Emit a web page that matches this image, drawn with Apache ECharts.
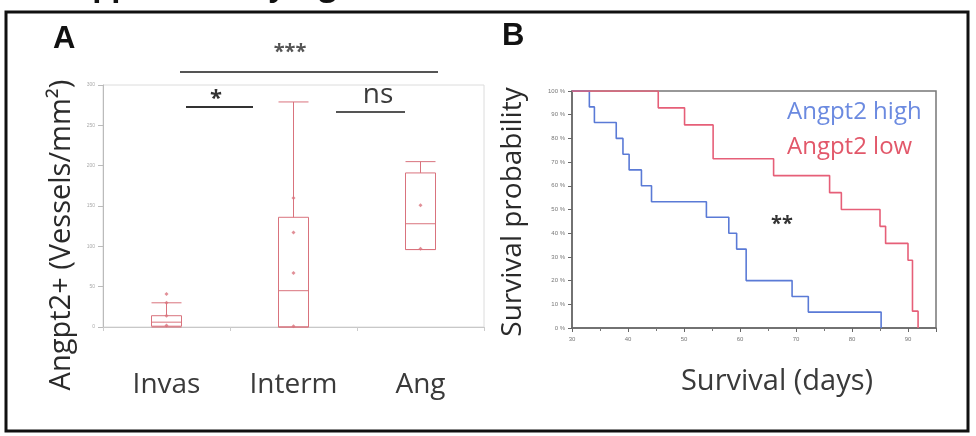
<!DOCTYPE html>
<html>
<head>
<meta charset="utf-8">
<script src="https://cdn.jsdelivr.net/npm/echarts@6/dist/echarts.min.js"></script>
<style>
  html, body { margin: 0; padding: 0; background: #fff; }
  #main { width: 976px; height: 436px; }
</style>
</head>
<body>
<div id="main"></div>
<script>
// 面板A：箱线图数据 [min, Q1, median, Q3, max]
var cats = ['Invas', 'Interm', 'Ang'];
var boxData = [
    [0, 1, 6, 14, 30],
    [0, 0, 45, 136, 279],
    [96, 96, 128, 191, 205]
];
// 单个数据点
var ptCat = ['Invas', 'Invas', 'Invas', 'Invas', 'Interm', 'Interm', 'Interm', 'Interm', 'Ang', 'Ang'];
var ptVal = [41, 30, 14, 2, 160, 117, 67, 1, 151, 97];

// 面板B：生存曲线 (天数, 生存率%)
var highDays = [30, 33.1, 34.0, 37.9, 39.1, 40.2, 42.4, 44.2, 54, 58, 59.4, 61.1, 69.3, 72.2, 85.2];
var highSurv = [100, 93.3, 86.7, 80, 73.3, 66.7, 60, 53.3, 46.7, 40, 33.3, 20, 13.3, 6.7, 0];
var lowDays = [30, 45.4, 50.1, 55.2, 66, 76, 78.1, 85, 86, 90, 90.8, 91.8];
var lowSurv = [100, 92.9, 85.7, 71.4, 64.3, 57.1, 50, 42.9, 35.7, 28.6, 7.1, 0];

var boxRed = '#d9737d';
var kmBlue = '#5a7ad6';
var kmRed = '#e65f78';
var txtFont = '"Open Sans", "Lato", sans-serif';
var txtColor = '#2a2a2a';

function pairs(xs, ys) {
    var out = [];
    for (var i = 0; i < xs.length; i++) {
        out.push([xs[i], ys[i]]);
    }
    return out;
}

var myChart = echarts.init(document.getElementById('main'), null, { renderer: 'canvas' });

myChart.setOption({
    backgroundColor: '#fff',
    animation: false,
    grid: [
        { left: 103, top: 85, width: 381, height: 242, show: true, borderColor: '#dcdcdc', borderWidth: 1 },
        { left: 572, top: 91, width: 364, height: 237, show: true, borderColor: '#777', borderWidth: 1.5 }
    ],
    xAxis: [
        {
            gridIndex: 0,
            type: 'category',
            data: cats,
            axisLine: { lineStyle: { color: '#c8c8c8' } },
            axisTick: { show: true, length: 4, lineStyle: { color: '#ccc' } },
            axisLabel: { margin: 44, fontSize: 28, color: '#3a3a3a', fontFamily: txtFont }
        },
        {
            gridIndex: 1,
            type: 'value',
            min: 30,
            max: 95,
            interval: 10,
            splitLine: { show: false },
            axisLine: { lineStyle: { color: '#666', width: 1.5 } },
            axisTick: { show: true, length: 4, lineStyle: { color: '#666' } },
            minorTick: { show: true, splitNumber: 2, length: 3, lineStyle: { color: '#777' } },
            axisLabel: {
                fontSize: 6, color: '#777', margin: 8,
                formatter: function (v) { return v <= 90 ? v : ''; }
            }
        }
    ],
    yAxis: [
        {
            gridIndex: 0,
            type: 'value',
            min: 0,
            max: 300,
            interval: 50,
            splitLine: { show: false },
            axisLine: { show: true, lineStyle: { color: '#bbb' } },
            axisTick: { show: true, length: 5, lineStyle: { color: '#bbb' } },
            axisLabel: { fontSize: 5, color: '#aaa', margin: 8 }
        },
        {
            gridIndex: 1,
            type: 'value',
            min: 0,
            max: 100,
            interval: 10,
            splitLine: { show: false },
            axisLine: { show: true, lineStyle: { color: '#666', width: 1.5 } },
            axisTick: { show: true, length: 4, lineStyle: { color: '#666' } },
            axisLabel: { fontSize: 6, color: '#777', margin: 7, formatter: '{value} %' }
        }
    ],
    series: [
        {
            name: 'box',
            type: 'boxplot',
            xAxisIndex: 0,
            yAxisIndex: 0,
            boxWidth: [30, 30],
            data: boxData,
            itemStyle: { color: 'rgba(0,0,0,0)', borderColor: boxRed, borderWidth: 1 }
        },
        {
            name: 'points',
            type: 'scatter',
            xAxisIndex: 0,
            yAxisIndex: 0,
            symbol: 'diamond',
            symbolSize: 4,
            data: pairs(ptCat, ptVal),
            itemStyle: { color: boxRed }
        },
        {
            name: 'Angpt2 high',
            type: 'line',
            xAxisIndex: 1,
            yAxisIndex: 1,
            step: 'end',
            showSymbol: false,
            data: pairs(highDays, highSurv),
            lineStyle: { color: kmBlue, width: 1.6 }
        },
        {
            name: 'Angpt2 low',
            type: 'line',
            xAxisIndex: 1,
            yAxisIndex: 1,
            step: 'end',
            showSymbol: false,
            data: pairs(lowDays, lowSurv),
            lineStyle: { color: kmRed, width: 1.6 }
        }
    ],
    graphic: [
        // 外框
        { type: 'rect', shape: { x: 6, y: 12, width: 962, height: 419 }, style: { fill: null, stroke: '#111', lineWidth: 3 }, z: 10 },
        // 被裁切的标题
        { type: 'text', x: 56, y: -28, style: { text: 'Supplementary Figure 3', font: 'bold 30px ' + txtFont, fill: '#111' } },
        { type: 'text', left: 53, top: 24, style: { text: 'A', font: 'bold 31px "Liberation Sans", Arial, sans-serif', fill: '#111' } },
        { type: 'text', left: 502, top: 21, style: { text: 'B', font: 'bold 31px "Liberation Sans", Arial, sans-serif', fill: '#111' } },
        // 显著性标注
        { type: 'line', shape: { x1: 180, y1: 72, x2: 438, y2: 72 }, style: { stroke: '#555', lineWidth: 2 } },
        { type: 'text', x: 290, y: 52, style: { text: '***', font: 'bold 20px ' + txtFont, fill: '#555', align: 'center', verticalAlign: 'middle' } },
        { type: 'line', shape: { x1: 186, y1: 107, x2: 253, y2: 107 }, style: { stroke: '#333', lineWidth: 2 } },
        { type: 'text', x: 216, y: 99, style: { text: '*', font: 'bold 22px ' + txtFont, fill: '#333', align: 'center', verticalAlign: 'middle' } },
        { type: 'line', shape: { x1: 336, y1: 112, x2: 405, y2: 112 }, style: { stroke: '#555', lineWidth: 2 } },
        { type: 'text', x: 378, y: 95, style: { text: 'ns', font: '28px ' + txtFont, fill: '#3a3a3a', align: 'center', verticalAlign: 'middle' } },
        // 轴标题
        { type: 'text', x: 62, y: 235, rotation: Math.PI / 2, style: { text: 'Angpt2+ (Vessels/mm²)', font: '29px ' + txtFont, fill: txtColor, align: 'center', verticalAlign: 'middle' } },
        { type: 'text', x: 513, y: 212, rotation: Math.PI / 2, style: { text: 'Survival probability', font: '28px ' + txtFont, fill: txtColor, align: 'center', verticalAlign: 'middle' } },
        { type: 'text', x: 777, y: 382, style: { text: 'Survival (days)', font: '29px ' + txtFont, fill: '#3a3a3a', align: 'center', verticalAlign: 'middle' } },
        // 图例文字
        { type: 'text', x: 787, y: 112, style: { text: 'Angpt2 high', font: '24px ' + txtFont, fill: '#6b8ae0', verticalAlign: 'middle' } },
        { type: 'text', x: 787, y: 147, style: { text: 'Angpt2 low', font: '24px ' + txtFont, fill: '#e2586a', verticalAlign: 'middle' } },
        { type: 'text', x: 782, y: 224, style: { text: '**', font: 'bold 20px ' + txtFont, fill: '#333', align: 'center', verticalAlign: 'middle' } }
    ]
});
</script>
</body>
</html>
